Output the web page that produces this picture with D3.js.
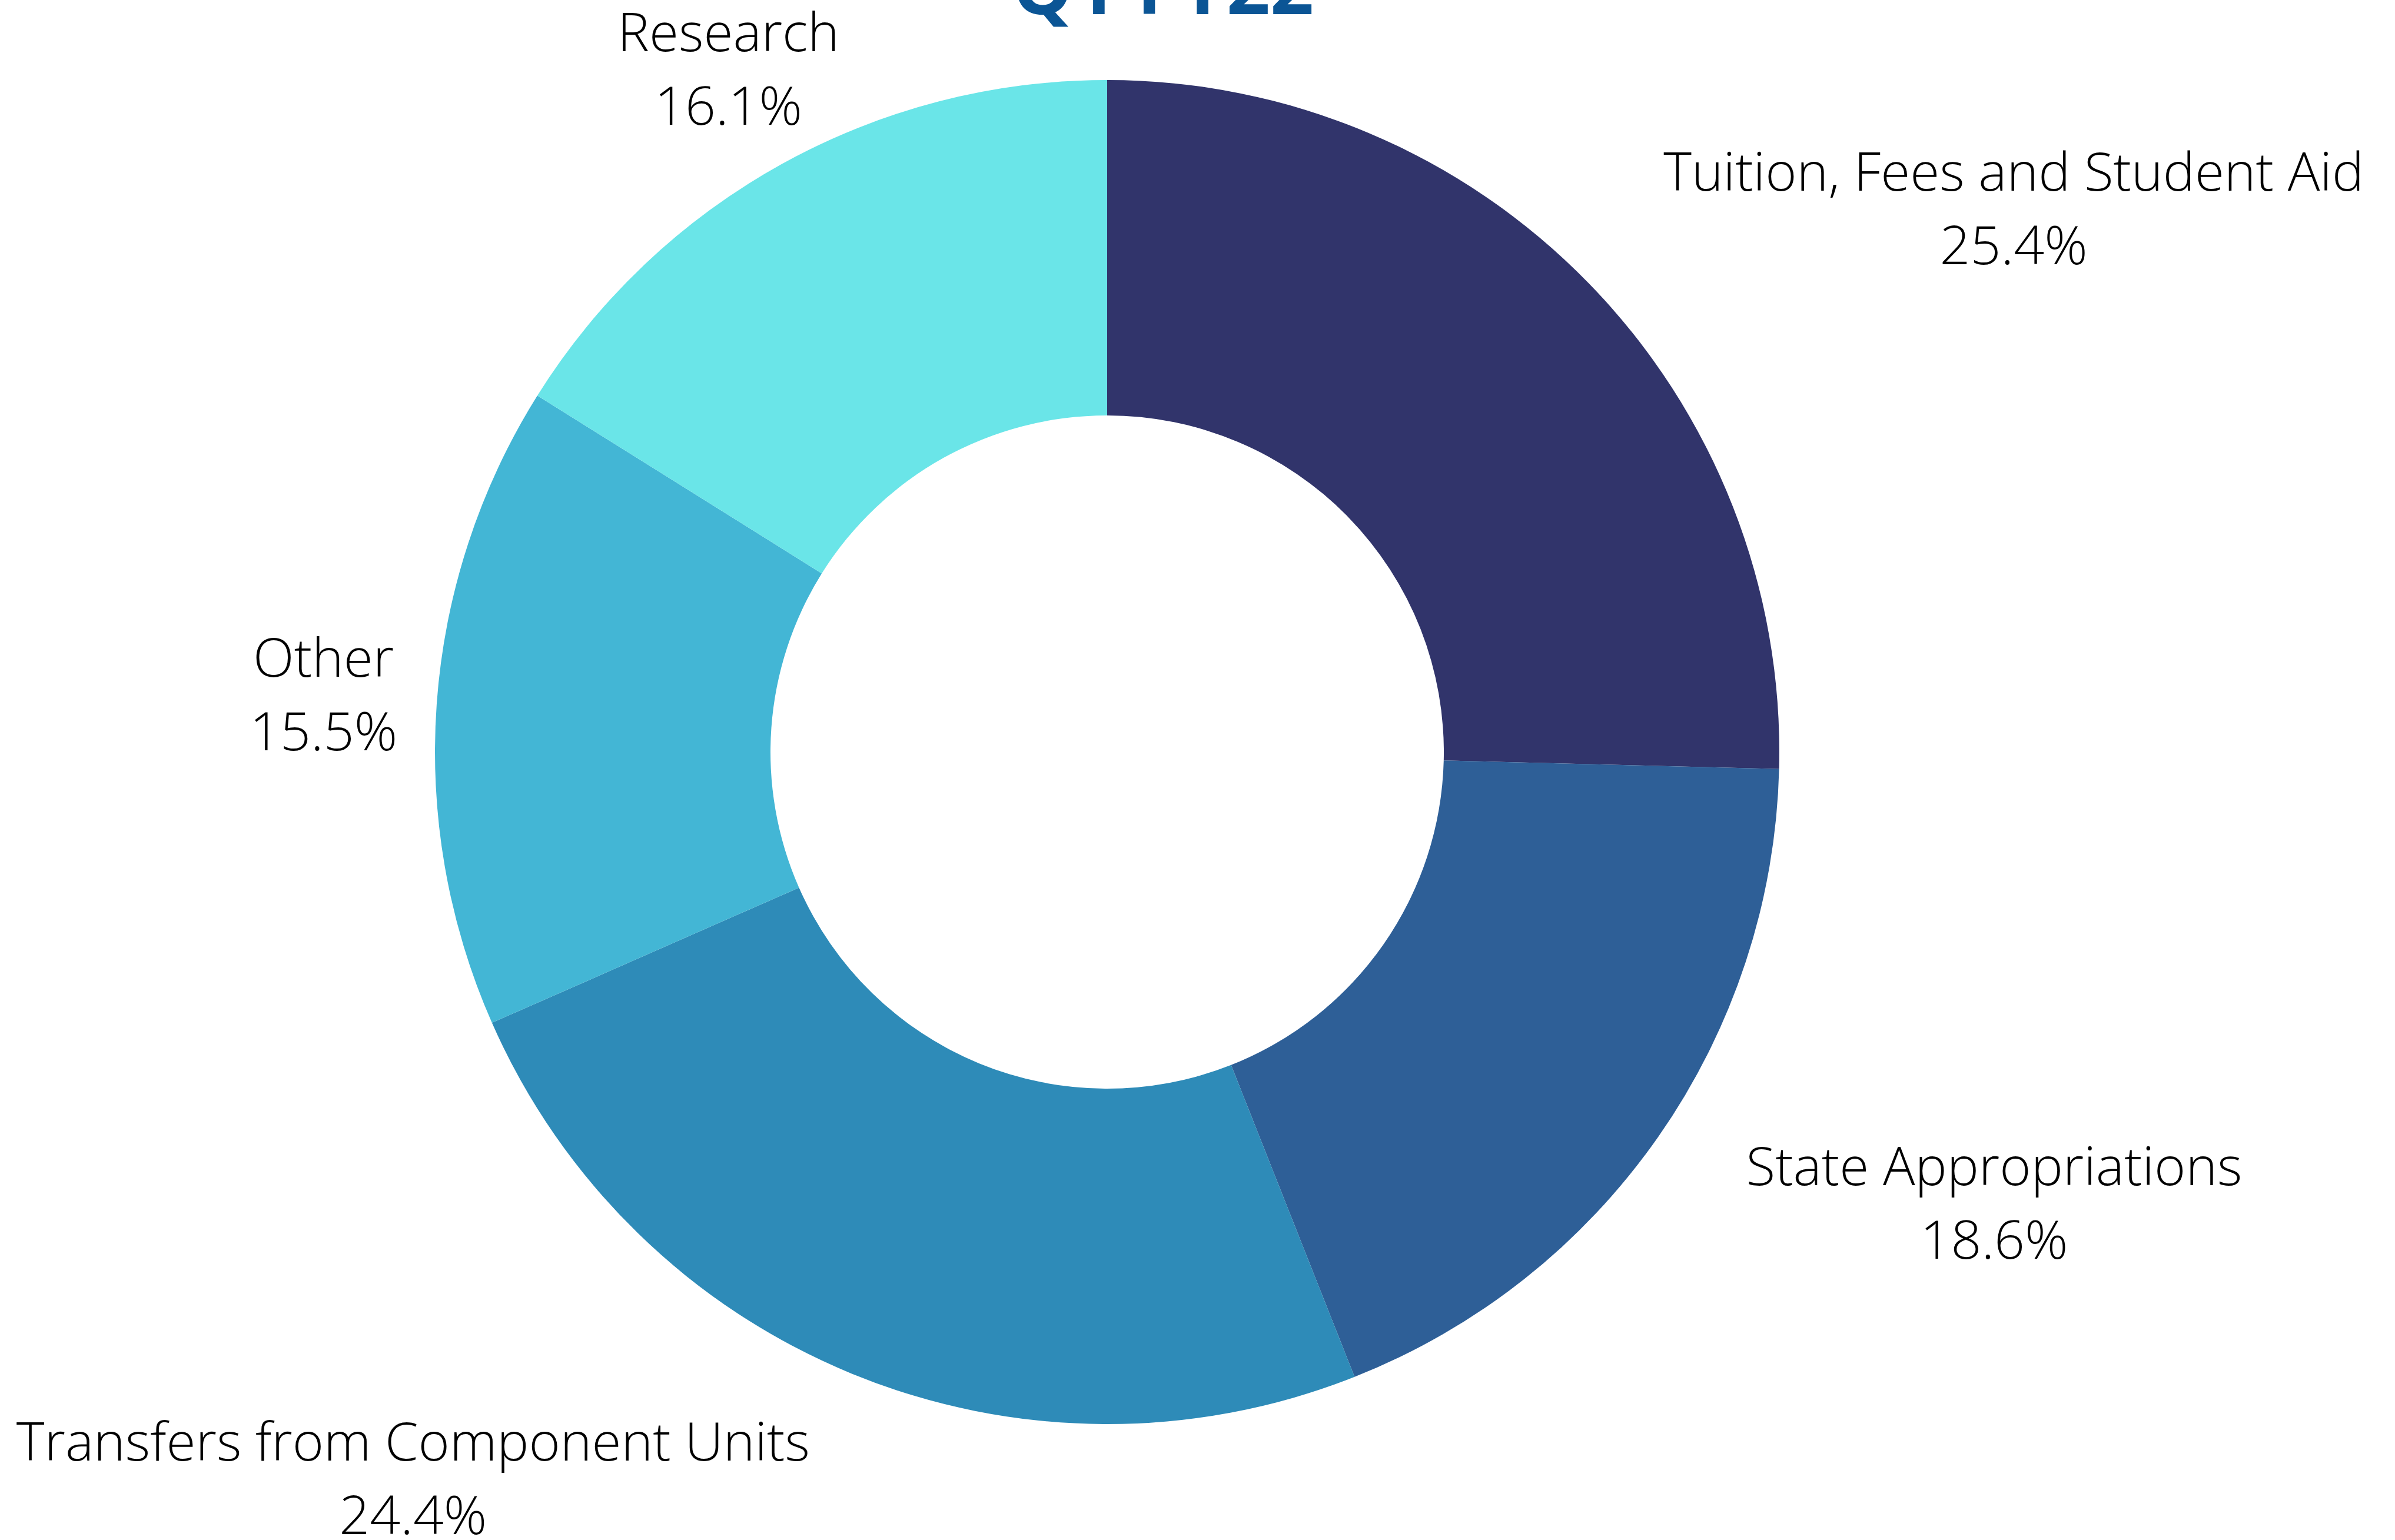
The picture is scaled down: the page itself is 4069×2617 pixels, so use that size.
<!DOCTYPE html>
<html>
<head>
<meta charset="utf-8">
<script src="https://cdn.jsdelivr.net/npm/d3@7"></script>
<style>
  html, body { margin: 0; padding: 0; background: #fff; }
  svg { display: block; }
</style>
</head>
<body>
<svg id="chart" width="4069" height="2617"></svg>
<script>
const categories = ["Tuition, Fees and Student Aid", "State Appropriations", "Transfers from Component Units", "Other", "Research"];
const shares = [25.4, 18.6, 24.4, 15.5, 16.1];
const colors = ["#31346b", "#2e5f97", "#2e8bb8", "#43b6d5", "#6ae5e8"];
const title = "Q1 FY22";

const svg = d3.select("#chart");
const width = +svg.attr("width");
const height = +svg.attr("height");

const cx = 1881, cy = 1278;
const outerR = 1142;
const innerR = 572;

// label anchor: angle shift (deg) from slice middle, distance as multiple of outer radius
const labelPlace = {
  "Tuition, Fees and Student Aid": { da: 13.3, k: 1.573 },
  "State Appropriations": { da: -8.0, k: 1.480 },
  "Transfers from Component Units": { da: 21.4, k: 1.494 },
  "Other": { da: 0.1, k: 1.169 },
  "Research": { da: 0.0, k: 1.163 }
};

const data = categories.map((c, i) => ({ name: c, value: shares[i], color: colors[i] }));

const pie = d3.pie().value(d => d.value).sort(null);
const arc = d3.arc().innerRadius(innerR).outerRadius(outerR);

const g = svg.append("g").attr("transform", `translate(${cx},${cy})`);

const arcs = pie(data);

g.selectAll("path")
  .data(arcs)
  .enter()
  .append("path")
  .attr("d", arc)
  .attr("fill", d => d.data.color);

const fontSize = 91;
const lineGap = 125;

const labels = g.selectAll("text.label")
  .data(arcs)
  .enter()
  .append("text")
  .attr("class", "label")
  .attr("text-anchor", "middle")
  .style("font-family", "'Open Sans', sans-serif")
  .style("font-weight", 300)
  .style("font-size", fontSize + "px")
  .attr("fill", "#000")
  .attr("transform", d => {
    const p = labelPlace[d.data.name];
    const a = (d.startAngle + d.endAngle) / 2 + p.da * Math.PI / 180;
    const r = outerR * p.k;
    const x = r * Math.sin(a);
    const y = -r * Math.cos(a) - 29.5;
    return `translate(${x},${y})`;
  });

labels.append("tspan")
  .attr("x", 0)
  .attr("dy", 0)
  .text(d => d.data.name);

labels.append("tspan")
  .attr("x", 0)
  .attr("dy", lineGap)
  .text(d => d3.format(".1f")(d.data.value) + "%");

svg.append("text")
  .attr("x", cx + 95)
  .attr("y", 24)
  .attr("text-anchor", "middle")
  .style("font-family", "'Open Sans', sans-serif")
  .style("font-weight", 700)
  .style("font-size", "130px")
  .attr("fill", "#0b5595")
  .text(title);
</script>
</body>
</html>
